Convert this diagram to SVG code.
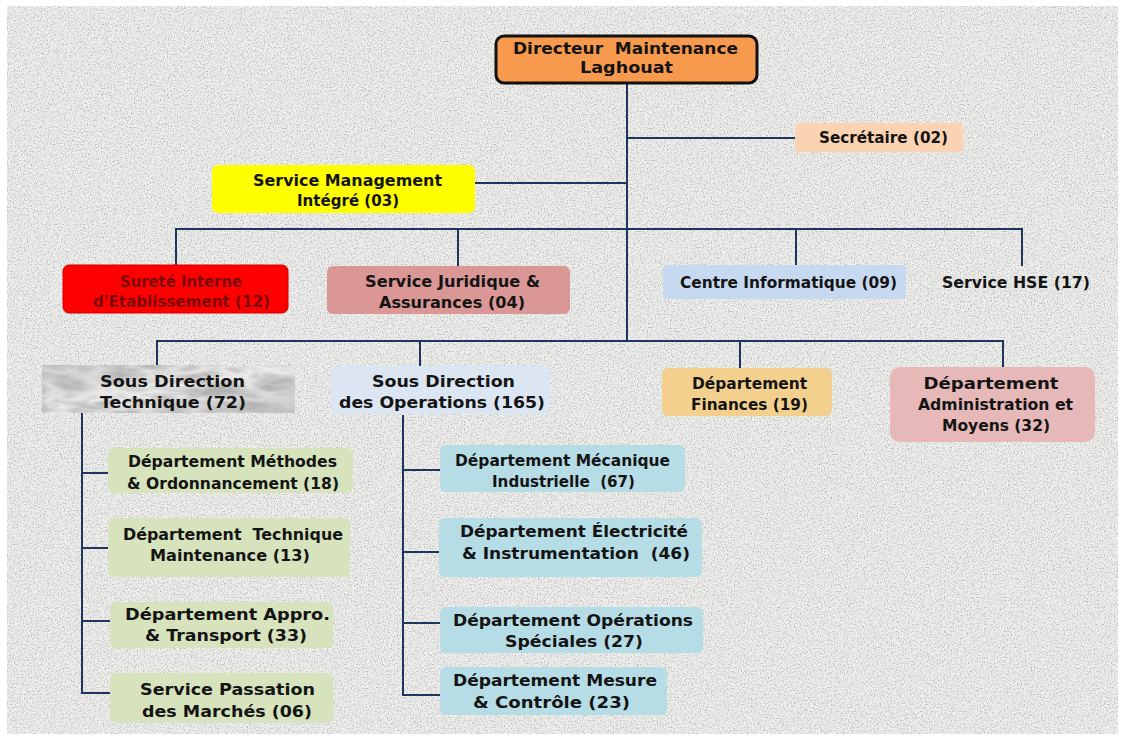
<svg xmlns="http://www.w3.org/2000/svg" width="1124" height="740" viewBox="0 0 1124 740">
<defs>
<filter id="grain" x="0" y="0" width="100%" height="100%">
<feTurbulence type="fractalNoise" baseFrequency="0.7" numOctaves="2" seed="3" result="n"/>
<feColorMatrix in="n" type="matrix" values="0 0 0 0 0.5  0 0 0 0 0.5  0 0 0 0 0.49  0 0 0 -3 1.6" result="g"/>
<feComposite in="g" in2="SourceGraphic" operator="in"/>
</filter>
<filter id="marble" x="0" y="0" width="100%" height="100%">
<feTurbulence type="turbulence" baseFrequency="0.02 0.07" numOctaves="3" seed="11" result="n"/>
<feColorMatrix in="n" type="matrix" values="0 0 0 0 0.45  0 0 0 0 0.45  0 0 0 0 0.45  0 0 0 1.8 -0.15" result="g"/>
<feComposite in="g" in2="SourceGraphic" operator="in"/>
</filter>
<linearGradient id="marbleBase" x1="0" y1="0" x2="1" y2="1">
<stop offset="0" stop-color="#cfcfcf"/>
<stop offset="0.5" stop-color="#ececec"/>
<stop offset="1" stop-color="#c8c8c8"/>
</linearGradient>
</defs>
<style>
text{font-family:"DejaVu Sans","Liberation Sans",sans-serif;font-weight:bold;font-size:15.5px;fill:#141414;text-anchor:middle}
.c line,.c polyline{stroke:#1f3560;stroke-width:2;fill:none}
.green{fill:#d6e3bc}
.blue{fill:#b6dce6}
</style>
<rect x="0" y="0" width="1124" height="740" fill="#ffffff"/>
<rect x="7" y="6" width="1111" height="728" fill="#eeeeec"/>
<rect x="7" y="6" width="1111" height="728" fill="#eeeeec" filter="url(#grain)"/>

<g class="c" id="connectors">
<line x1="627" y1="83" x2="627" y2="341"/>
<line x1="627" y1="138" x2="796" y2="138"/>
<line x1="475" y1="183" x2="627" y2="183"/>
<polyline points="176,266 176,229 1022,229 1022,266"/>
<line x1="458" y1="229" x2="458" y2="266"/>
<line x1="796" y1="229" x2="796" y2="265"/>
<polyline points="157,366 157,341 1003,341 1003,367"/>
<line x1="420" y1="341" x2="420" y2="366"/>
<line x1="740" y1="341" x2="740" y2="368"/>
<polyline points="82,413 82,693 110,693"/>
<line x1="82" y1="473" x2="108" y2="473"/>
<line x1="82" y1="548" x2="108" y2="548"/>
<line x1="82" y1="621" x2="110" y2="621"/>
<polyline points="403,415 403,695 440,695"/>
<line x1="403" y1="470" x2="440" y2="470"/>
<line x1="403" y1="552" x2="439" y2="552"/>
<line x1="403" y1="623" x2="440" y2="623"/>
</g>

<g id="directeur">
<rect x="496" y="36" width="261" height="47" rx="8" fill="#f79a4e" stroke="#111" stroke-width="3"/>
<text x="625.5" y="54" style="font-size:16.5px" textLength="225" lengthAdjust="spacingAndGlyphs" xml:space="preserve">Directeur  Maintenance</text>
<text x="626.5" y="73" style="font-size:16.5px" textLength="93" lengthAdjust="spacingAndGlyphs">Laghouat</text>
</g>
<g id="secretaire">
<rect x="795" y="123" width="168" height="29" rx="4" fill="#fbd3b2"/>
<text x="883.5" y="143" textLength="129" lengthAdjust="spacingAndGlyphs">Secrétaire (02)</text>
</g>
<g id="management">
<rect x="212" y="165" width="263" height="48" rx="6" fill="#ffff00"/>
<text x="347.5" y="186" textLength="189" lengthAdjust="spacingAndGlyphs">Service Management</text>
<text x="348" y="206" textLength="102" lengthAdjust="spacingAndGlyphs">Intégré (03)</text>
</g>
<g id="surete">
<rect x="63" y="265" width="225" height="48" rx="6" fill="#ff0000" stroke="#d60000" stroke-width="1"/>
<text x="181" y="287" style="fill:#7a0a0a" textLength="122" lengthAdjust="spacingAndGlyphs">Sureté Interne</text>
<text x="181.5" y="307" style="fill:#7a0a0a" textLength="177" lengthAdjust="spacingAndGlyphs">d'Etablissement (12)</text>
</g>
<g id="juridique">
<rect x="327" y="266" width="243" height="48" rx="6" fill="#da9795"/>
<text x="452.5" y="287" textLength="175" lengthAdjust="spacingAndGlyphs">Service Juridique &amp;</text>
<text x="452" y="308" textLength="146" lengthAdjust="spacingAndGlyphs">Assurances (04)</text>
</g>
<g id="informatique">
<rect x="663" y="265" width="243" height="34" rx="4" fill="#c6d9f0"/>
<text x="788.5" y="288" textLength="217" lengthAdjust="spacingAndGlyphs">Centre Informatique (09)</text>
</g>
<g id="hse">
<text x="1016" y="288" textLength="148" lengthAdjust="spacingAndGlyphs">Service HSE (17)</text>
</g>
<g id="sd-technique">
<rect x="42" y="365" width="253" height="48" fill="url(#marbleBase)"/>
<rect x="42" y="365" width="253" height="48" fill="#ddd" filter="url(#marble)"/>
<text x="172.5" y="387" textLength="145" lengthAdjust="spacingAndGlyphs">Sous Direction</text>
<text x="173" y="408" textLength="146" lengthAdjust="spacingAndGlyphs">Technique (72)</text>
</g>
<g id="sd-operations">
<rect x="331" y="366" width="219" height="48" fill="#dce6f2"/>
<text x="443.5" y="387" textLength="143" lengthAdjust="spacingAndGlyphs">Sous Direction</text>
<text x="442" y="408" textLength="206" lengthAdjust="spacingAndGlyphs">des Operations (165)</text>
</g>
<g id="finances">
<rect x="662" y="368" width="170" height="48" rx="6" fill="#f3d08e"/>
<text x="749.5" y="389" textLength="115" lengthAdjust="spacingAndGlyphs">Département</text>
<text x="749.5" y="410" textLength="117" lengthAdjust="spacingAndGlyphs">Finances (19)</text>
</g>
<g id="administration">
<rect x="890" y="367" width="205" height="75" rx="10" fill="#e6b8b8"/>
<text x="991" y="389" textLength="135" lengthAdjust="spacingAndGlyphs">Département</text>
<text x="995.5" y="410" textLength="155" lengthAdjust="spacingAndGlyphs">Administration et</text>
<text x="996" y="431" textLength="108" lengthAdjust="spacingAndGlyphs">Moyens (32)</text>
</g>
<g id="methodes">
<rect x="108" y="448" width="245" height="45" rx="6" class="green"/>
<text x="232.5" y="467" textLength="209" lengthAdjust="spacingAndGlyphs">Département Méthodes</text>
<text x="233" y="489" textLength="212" lengthAdjust="spacingAndGlyphs">&amp; Ordonnancement (18)</text>
</g>
<g id="technique-maintenance">
<rect x="108" y="518" width="242" height="59" rx="6" class="green"/>
<text x="233" y="540" textLength="220" lengthAdjust="spacingAndGlyphs" xml:space="preserve">Département  Technique</text>
<text x="230" y="561" textLength="160" lengthAdjust="spacingAndGlyphs">Maintenance (13)</text>
</g>
<g id="appro">
<rect x="110" y="602" width="223" height="46" rx="6" class="green"/>
<text x="227.5" y="620" textLength="205" lengthAdjust="spacingAndGlyphs">Département Appro.</text>
<text x="226" y="641" textLength="162" lengthAdjust="spacingAndGlyphs">&amp; Transport (33)</text>
</g>
<g id="passation">
<rect x="110" y="673" width="223" height="50" rx="6" class="green"/>
<text x="227.5" y="695" textLength="175" lengthAdjust="spacingAndGlyphs">Service Passation</text>
<text x="227" y="717" textLength="170" lengthAdjust="spacingAndGlyphs">des Marchés (06)</text>
</g>
<g id="mecanique">
<rect x="440" y="445" width="245" height="47" rx="6" class="blue"/>
<text x="562.5" y="466" textLength="215" lengthAdjust="spacingAndGlyphs">Département Mécanique</text>
<text x="563.5" y="487" textLength="143" lengthAdjust="spacingAndGlyphs" xml:space="preserve">Industrielle  (67)</text>
</g>
<g id="electricite">
<rect x="439" y="518" width="263" height="59" rx="6" class="blue"/>
<text x="574" y="537" textLength="228" lengthAdjust="spacingAndGlyphs">Département Électricité</text>
<text x="576" y="559" textLength="228" lengthAdjust="spacingAndGlyphs" xml:space="preserve">&amp; Instrumentation  (46)</text>
</g>
<g id="operations-speciales">
<rect x="440" y="607" width="263" height="46" rx="6" class="blue"/>
<text x="573" y="626" textLength="240" lengthAdjust="spacingAndGlyphs">Département Opérations</text>
<text x="574" y="647" textLength="138" lengthAdjust="spacingAndGlyphs">Spéciales (27)</text>
</g>
<g id="mesure">
<rect x="440" y="667" width="227" height="48" rx="6" class="blue"/>
<text x="555" y="686" textLength="204" lengthAdjust="spacingAndGlyphs">Département Mesure</text>
<text x="551.5" y="708" textLength="157" lengthAdjust="spacingAndGlyphs">&amp; Contrôle (23)</text>
</g>
</svg>
